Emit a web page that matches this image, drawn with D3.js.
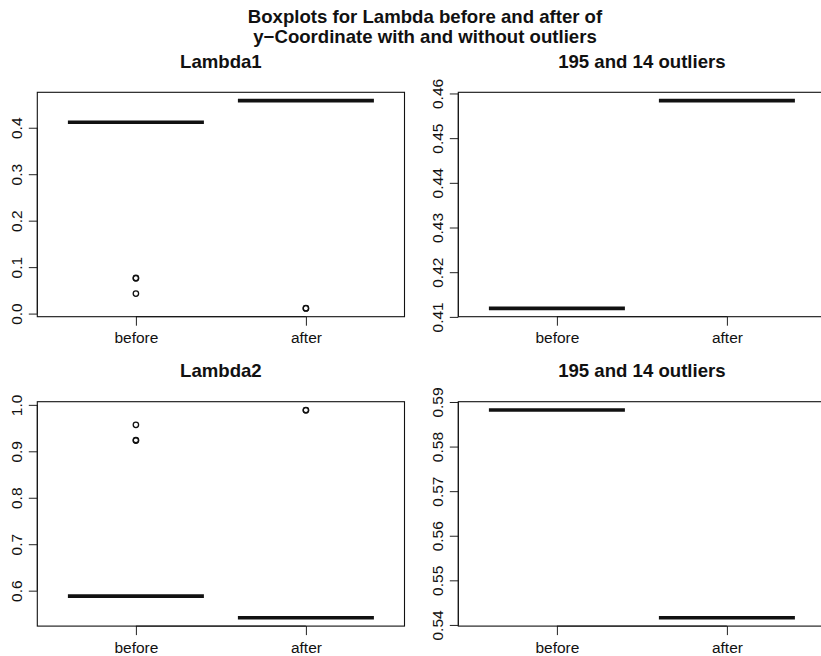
<!DOCTYPE html>
<html>
<head>
<meta charset="utf-8">
<script src="https://cdn.jsdelivr.net/npm/d3@7"></script>
<style>
  html, body { margin: 0; padding: 0; background: #fff; }
  svg { display: block; }
  text { font-family: "Liberation Sans", Arial, Helvetica, sans-serif; fill: #111; }
</style>
</head>
<body>
<svg id="chart" width="821" height="656"></svg>
<script>
// Groups on the x axis
const groups = ["before", "after"];

// Main title (two lines) and panel titles
const mainTitle = ["Boxplots for Lambda before and after of", "y\u2212Coordinate with and without outliers"];
const panelTitles = ["Lambda1", "195 and 14 outliers", "Lambda2", "195 and 14 outliers"];

// Lambda1: medians (boxes collapse to the median) and outliers per group
const lambda1Median = [0.4119, 0.4584];
const lambda1OutBefore = [0.0758, 0.0768, 0.0430];
const lambda1OutAfter = [0.0112, 0.0117];

// Lambda2: medians and outliers per group
const lambda2Median = [0.5882, 0.5416];
const lambda2OutBefore = [0.9570, 0.9232, 0.9242];
const lambda2OutAfter = [0.9882, 0.9889];

// Y tick values for each panel
const ticksLambda1 = [0.0, 0.1, 0.2, 0.3, 0.4];
const ticksLambda1Clean = [0.41, 0.42, 0.43, 0.44, 0.45, 0.46];
const ticksLambda2 = [0.6, 0.7, 0.8, 0.9, 1.0];
const ticksLambda2Clean = [0.54, 0.55, 0.56, 0.57, 0.58, 0.59];

const panels = [
  { title: panelTitles[0], median: lambda1Median, outliers: [lambda1OutBefore, lambda1OutAfter], ticks: ticksLambda1, fmt: d3.format(".1f"), col: 0, row: 0 },
  { title: panelTitles[1], median: lambda1Median, outliers: [[], []], ticks: ticksLambda1Clean, fmt: d3.format(".2f"), col: 1, row: 0 },
  { title: panelTitles[2], median: lambda2Median, outliers: [lambda2OutBefore, lambda2OutAfter], ticks: ticksLambda2, fmt: d3.format(".1f"), col: 0, row: 1 },
  { title: panelTitles[3], median: lambda2Median, outliers: [[], []], ticks: ticksLambda2Clean, fmt: d3.format(".2f"), col: 1, row: 1 }
];

// Plot-region geometry
const plotLeft = [37.3, 458.3];
const plotTop = [92.3, 401.7];
const plotW = 367.2;
const plotH = 224.4;

const svg = d3.select("#chart");

// Outer title
svg.selectAll("text.main")
  .data(mainTitle)
  .join("text")
  .attr("class", "main")
  .attr("x", 425)
  .attr("y", (d, i) => 22.7 + i * 20.3)
  .attr("text-anchor", "middle")
  .style("font-size", "18.6px")
  .style("font-weight", "bold")
  .text(d => d);

// Range padded by 4% on each side, as in R's default axis style
function padded(lo, hi) {
  const pad = (hi - lo) * 0.04;
  return [lo - pad, hi + pad];
}

panels.forEach(p => {
  const x0 = plotLeft[p.col], y0 = plotTop[p.row];
  const g = svg.append("g").attr("transform", `translate(${x0},${y0})`);

  const allVals = p.median.concat(p.outliers[0], p.outliers[1]);
  const x = d3.scaleLinear().domain(padded(0.5, groups.length + 0.5)).range([0, plotW]);
  const y = d3.scaleLinear().domain(padded(d3.min(allVals), d3.max(allVals))).range([plotH, 0]);

  // Panel title
  g.append("text")
    .attr("x", plotW / 2)
    .attr("y", -24.3)
    .attr("text-anchor", "middle")
    .style("font-size", "18.6px")
    .style("font-weight", "bold")
    .text(p.title);

  // Y axis
  const yAxis = d3.axisLeft(y).tickValues(p.ticks).tickFormat(p.fmt).tickSize(8.5).tickSizeOuter(0);
  const ya = g.append("g").call(yAxis);
  ya.select(".domain").remove();
  ya.selectAll(".tick line").attr("stroke", "#222");
  ya.selectAll(".tick text")
    .attr("x", null).attr("dy", null)
    .attr("transform", "translate(-15.5,0) rotate(-90)")
    .attr("text-anchor", "middle")
    .style("font-size", "15.5px")
    .style("font-family", "'Liberation Sans', Arial, Helvetica, sans-serif")
    .attr("fill", "#111");
  g.append("line")
    .attr("x1", 0).attr("x2", 0)
    .attr("y1", y(p.ticks[0])).attr("y2", y(p.ticks[p.ticks.length - 1]))
    .attr("stroke", "#222");

  // X axis
  const xAxis = d3.axisBottom(x).tickValues([1, 2]).tickFormat((d, i) => groups[i]).tickSize(9).tickSizeOuter(0);
  const xa = g.append("g").attr("transform", `translate(0,${plotH})`).call(xAxis);
  xa.select(".domain").remove();
  xa.selectAll(".tick line").attr("stroke", "#222");
  xa.selectAll(".tick text")
    .attr("y", 26.6).attr("dy", null)
    .style("font-size", "15.5px")
    .style("font-family", "'Liberation Sans', Arial, Helvetica, sans-serif")
    .attr("fill", "#111");
  g.append("line")
    .attr("x1", x(1)).attr("x2", x(2))
    .attr("y1", plotH).attr("y2", plotH)
    .attr("stroke", "#222");

  // Plot frame
  g.append("rect")
    .attr("x", 0).attr("y", 0)
    .attr("width", plotW).attr("height", plotH)
    .attr("fill", "none")
    .attr("stroke", "#111")
    .attr("stroke-width", 1.1);

  // Collapsed boxes: median line
  g.selectAll("line.median")
    .data(p.median)
    .join("line")
    .attr("class", "median")
    .attr("x1", (d, i) => x(i + 1 - 0.4))
    .attr("x2", (d, i) => x(i + 1 + 0.4))
    .attr("y1", d => y(d))
    .attr("y2", d => y(d))
    .attr("stroke", "#111")
    .attr("stroke-width", 3.6)
    .attr("stroke-linecap", "butt");

  // Outliers
  const pts = [];
  p.outliers.forEach((arr, i) => arr.forEach(v => pts.push({ i, v })));
  g.selectAll("circle.out")
    .data(pts)
    .join("circle")
    .attr("class", "out")
    .attr("cx", d => x(d.i + 1))
    .attr("cy", d => y(d.v))
    .attr("r", 2.7)
    .attr("fill", "none")
    .attr("stroke", "#111")
    .attr("stroke-width", 1.3);
});
</script>
</body>
</html>
